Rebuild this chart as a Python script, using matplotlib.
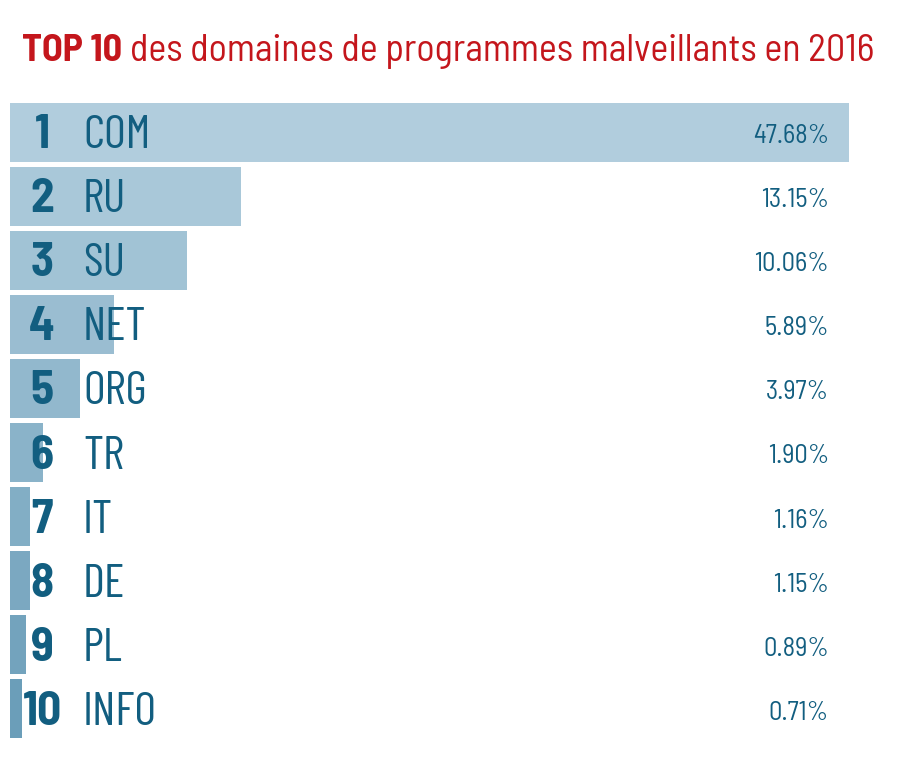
import matplotlib
matplotlib.use("Agg")
import matplotlib.pyplot as plt
import numpy as np

ranks = ["1", "2", "3", "4", "5", "6", "7", "8", "9", "10"]
domains = ["COM", "RU", "SU", "NET", "ORG", "TR", "IT", "DE", "PL", "INFO"]
shares = [47.68, 13.15, 10.06, 5.89, 3.97, 1.90, 1.16, 1.15, 0.89, 0.71]
value_labels = ["47.68%", "13.15%", "10.06%", "5.89%", "3.97%", "1.90%", "1.16%", "1.15%", "0.89%", "0.71%"]
title_bold = "TOP 10"
title_rest = "des domaines de programmes malveillants en 2016"

fig = plt.figure(figsize=(9, 7.78), dpi=100)
ax = fig.add_axes([10/900, (778-741)/778, 880/900, 641/778])
y = np.arange(1, len(shares) + 1)
top_c = np.array([0xb1, 0xcd, 0xdd]) / 255
bot_c = np.array([0x6b, 0x9e, 0xb9]) / 255
cols = [tuple(top_c + (bot_c - top_c) * i / 9) for i in range(10)]
ax.barh(y, shares, height=0.92, color=cols, left=0)
ax.set_xlim(0, 50)
ax.set_ylim(10.5, 0.5)
ax.axis("off")
txt = "#125e80"
FC = "Barlow Condensed"
FS = "Barlow Semi Condensed"
for i in range(10):
    ax.text(1.82, y[i] + 0.25, ranks[i], ha="center", va="baseline", fontsize=34,
            fontweight=700, color=txt, family=FS)
    ax.text(4.15, y[i] + 0.25, domains[i], ha="left", va="baseline", fontsize=34,
            color=txt, family=FC)
    ax.text(46.53, y[i] + 0.17, value_labels[i], ha="right", va="baseline", fontsize=19,
            color=txt, family=FS)

red = "#c4161c"
t1 = fig.text(22/900, 1 - 61/778, title_bold, fontsize=27.4, color=red, family=FS,
              fontweight="bold", va="baseline")
fig.canvas.draw()
r = fig.canvas.get_renderer()
bb = t1.get_window_extent(r)
x2 = (bb.x1 + 8) / fig.bbox.width
fig.text(x2, 1 - 61/778, title_rest, fontsize=27.4, color=red, family=FS, va="baseline")
fig.savefig("out.png", dpi=100)
